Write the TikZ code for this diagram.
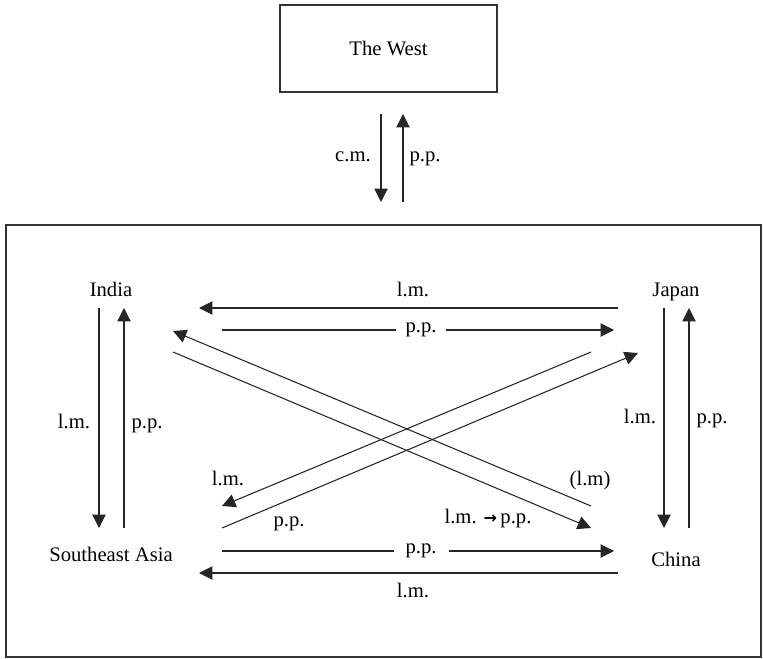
\documentclass[tikz,border=0pt]{standalone}
\usepackage{fontspec}
\setmainfont{Liberation Serif}
\newfontfamily\arrowfont{DejaVu Sans}
\usetikzlibrary{arrows.meta}
\begin{document}
\begin{tikzpicture}[x=0.75pt,y=-0.75pt,
  lbl/.style={font=\fontsize{15.5}{18}\selectfont, inner sep=0pt, anchor=base},
  arr/.style={draw=black!85, line width=0.8pt, -{Triangle[length=10pt,width=10pt]}},
  frame/.style={draw=black!80, line width=1pt, inner sep=0pt},
  gap/.style={fill=white, inner xsep=7pt, inner ysep=1pt, font=\fontsize{15.5}{18}\selectfont}]
\useasboundingbox (0,0) rectangle (763,659);
% frames
\node[frame, minimum width=162.75pt, minimum height=65.25pt,
      font=\fontsize{15.5}{18}\selectfont] (west) at (388.5,48.5) {The West};
\node[frame, minimum width=566.25pt, minimum height=324pt] (region) at (383.5,441) {};
% places
\node[lbl] (india) at (111,296) {India};
\node[lbl] (japan) at (676,296) {Japan};
\node[lbl] (sea) at (111,561) {Southeast Asia};
\node[lbl] (china) at (676,566) {China};
% West arrows
\coordinate (w1) at (381,114); \coordinate (w2) at (381,202);
\coordinate (w3) at (403,202); \coordinate (w4) at (403,114);
\draw[arr] (w1) -- (w2);
\draw[arr] (w3) -- (w4);
\node[lbl] (lcm) at (353,162) {c.m.};
\node[lbl] (lwpp) at (425,162) {p.p.};
% India - Southeast Asia
\coordinate (is1) at (99,308); \coordinate (is2) at (99,528);
\coordinate (si1) at (124,528); \coordinate (si2) at (124,308);
\draw[arr] (is1) -- (is2);
\draw[arr] (si1) -- (si2);
\node[lbl] (lis) at (74,428) {l.m.};
\node[lbl] (lsi) at (147,428) {p.p.};
% Japan - China
\coordinate (jc1) at (664,308); \coordinate (jc2) at (664,528);
\coordinate (cj1) at (689,528); \coordinate (cj2) at (689,308);
\draw[arr] (jc1) -- (jc2);
\draw[arr] (cj1) -- (cj2);
\node[lbl] (ljc) at (640,423) {l.m.};
\node[lbl] (lcj) at (712,423) {p.p.};
% top horizontals
\coordinate (ji1) at (618,308); \coordinate (ji2) at (199,308);
\coordinate (ij1) at (222,330); \coordinate (ij2) at (614,330);
\draw[arr] (ji1) -- (ji2);
\draw[arr] (ij1) -- (ij2) node[gap, pos=0.508] (lij) {p.p.};
\node[lbl] (lji) at (413,296) {l.m.};
% bottom horizontals
\coordinate (sc1) at (222,551); \coordinate (sc2) at (614,551);
\coordinate (cs1) at (618,573); \coordinate (cs2) at (199,573);
\draw[arr] (sc1) -- (sc2) node[gap, pos=0.508, inner xsep=9pt] (lsc) {p.p.};
\draw[arr] (cs1) -- (cs2);
\node[lbl] (lcs) at (413,597) {l.m.};
% diagonals
\coordinate (ci1) at (591,506); \coordinate (ci2) at (173,331);
\coordinate (ic1) at (173,352); \coordinate (ic2) at (591,528);
\coordinate (js1) at (591,352); \coordinate (js2) at (222,506);
\coordinate (sj1) at (222,528); \coordinate (sj2) at (638,353);
\draw[arr] (ci1) -- (ci2);
\draw[arr] (ic1) -- (ic2);
\draw[arr] (js1) -- (js2);
\draw[arr] (sj1) -- (sj2);
\node[lbl] (lci) at (590,485) {(l.m)};
\node[lbl] (lic) at (488,523) {l.m. {\arrowfont\bfseries\fontsize{12}{14}\selectfont →}\,p.p.};
\node[lbl] (ljs) at (228,485) {l.m.};
\node[lbl] (lsj) at (289,526) {p.p.};
\end{tikzpicture}
\end{document}
